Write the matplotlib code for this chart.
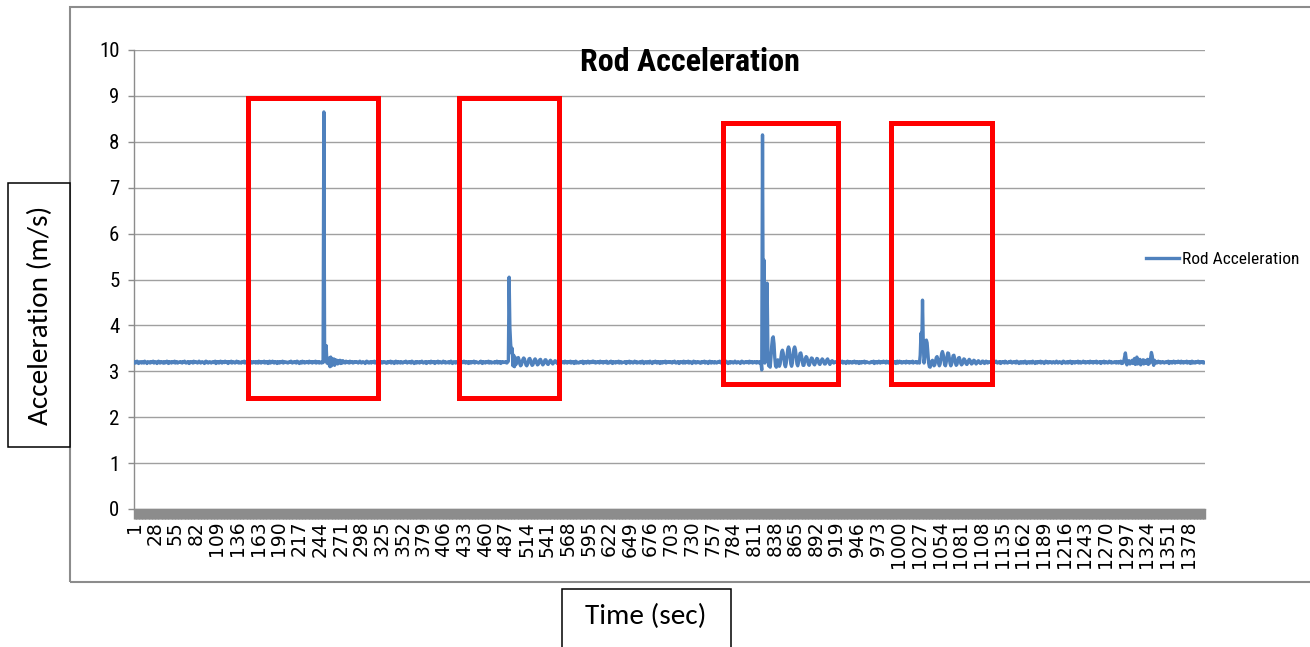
import numpy as np
import matplotlib
matplotlib.use("Agg")
import matplotlib.pyplot as plt
from matplotlib.patches import Rectangle

# Rod acceleration, one reading per second, in hundredths of m/s.
# Quiet stretches (rest_*) alternate with the impact bursts (burst_*).
rest_1 = [
    319, 321, 318, 320, 322, 319, 317, 320, 321, 319, 318, 321, 320, 318, 322, 320, 319, 317, 321, 320,
    320, 318, 321, 319, 320, 322, 318, 319, 321, 320, 317, 320, 322, 319, 318, 321, 319, 320, 318, 321,
    318, 320, 319, 322, 320, 317, 321, 319, 320, 318, 321, 320, 319, 322, 318, 320, 321, 318, 319, 320,
    321, 319, 320, 318, 321, 320, 322, 319, 318, 320, 319, 321, 317, 320, 319, 321, 320, 318, 322, 319,
    320, 321, 319, 318, 320, 322, 320, 318, 319, 321, 320, 319, 317, 321, 322, 319, 320, 318, 320, 321,
    319, 318, 320, 321, 319, 320, 322, 317, 320, 319, 321, 318, 320, 322, 319, 318, 321, 320, 319, 322,
    320, 319, 321, 317, 320, 321, 319, 322, 318, 320, 321, 319, 318, 320, 322, 319, 321, 318, 320, 319,
    318, 321, 320, 319, 322, 318, 320, 321, 319, 317, 320, 322, 319, 321, 318, 320, 319, 321, 320, 318,
    321, 320, 318, 322, 319, 320, 318, 321, 320, 319, 322, 318, 320, 319, 321, 317, 320, 322, 318, 320,
    319, 322, 320, 318, 321, 319, 320, 317, 321, 320, 318, 321, 319, 320, 322, 318, 319, 321, 320, 319,
    320, 318, 319, 321, 320, 322, 319, 318, 320, 321, 319, 320, 318, 322, 321, 319, 317, 320, 321, 318,
    322, 319, 321, 318, 320, 319, 321, 320, 318, 322, 320, 319, 321, 318, 320, 321, 319, 322, 318, 320,
    319, 321, 318, 320,
]
burst_1 = [
    320, 318, 321, 319, 865, 330, 322, 356, 318, 327,
    316, 329, 310, 331, 312, 326, 317, 327, 313, 325,
    318, 324, 316, 323, 319, 324, 317, 322, 318, 323,
    319, 321, 318, 322, 320, 319, 321, 318, 322, 319,
    320, 321, 318, 320, 319, 321,
]
rest_2 = [
    320, 321, 319, 318, 320, 322, 320, 318, 319, 321, 320, 319, 317, 321, 322, 319, 320, 318, 320, 321,
    318, 321, 320, 319, 322, 318, 320, 321, 319, 317, 320, 322, 319, 321, 318, 320, 319, 321, 320, 318,
    320, 318, 321, 319, 320, 322, 318, 319, 321, 320, 317, 320, 322, 319, 318, 321, 319, 320, 318, 321,
    320, 318, 319, 321, 320, 322, 319, 318, 320, 321, 319, 320, 318, 322, 321, 319, 317, 320, 321, 318,
    321, 319, 320, 318, 321, 320, 322, 319, 318, 320, 319, 321, 317, 320, 319, 321, 320, 318, 322, 319,
    320, 319, 321, 317, 320, 321, 319, 322, 318, 320, 321, 319, 318, 320, 322, 319, 321, 318, 320, 319,
    319, 321, 318, 320, 322, 319, 317, 320, 321, 319, 318, 321, 320, 318, 322, 320, 319, 317, 321, 320,
    319, 322, 320, 318, 321, 319, 320, 317, 321, 320, 318, 321, 319, 320, 322, 318, 319, 321, 320, 319,
    318, 320, 319, 322, 320, 317, 321, 319, 320, 318, 321, 320, 319, 322, 318, 320, 321, 318, 319, 320,
    320, 318, 321, 319, 322, 318, 320, 319, 321, 317, 320, 321, 319, 320,
]
burst_2 = [
    320, 319, 321, 318, 320, 322, 505, 395, 360, 340,
    350, 312, 335, 310, 330, 315, 322, 328, 330, 325,
    316, 312, 314, 320, 326, 329, 327, 320, 314, 312,
    315, 321, 327, 328, 324, 317, 313, 314, 319, 325,
    327, 324, 318, 314, 315, 320, 325, 326, 322, 317,
    314, 316, 321, 325, 325, 321, 316, 315, 318, 322,
    324, 322, 318, 316, 318, 321, 323, 322, 319, 317,
    319, 321, 322, 320, 318, 319,
]
rest_3 = [
    321, 320, 318, 322, 319, 320, 318, 321, 320, 319, 322, 318, 320, 319, 321, 317, 320, 322, 318, 320,
    319, 318, 320, 321, 319, 320, 322, 317, 320, 319, 321, 318, 320, 322, 319, 318, 321, 320, 319, 322,
    322, 319, 321, 318, 320, 319, 321, 320, 318, 322, 320, 319, 321, 318, 320, 321, 319, 322, 318, 320,
    318, 320, 319, 322, 320, 317, 321, 319, 320, 318, 321, 320, 319, 322, 318, 320, 321, 318, 319, 320,
    320, 319, 321, 317, 320, 321, 319, 322, 318, 320, 321, 319, 318, 320, 322, 319, 321, 318, 320, 319,
    319, 321, 318, 320, 322, 319, 317, 320, 321, 319, 318, 321, 320, 318, 322, 320, 319, 317, 321, 320,
    319, 322, 320, 318, 321, 319, 320, 317, 321, 320, 318, 321, 319, 320, 322, 318, 319, 321, 320, 319,
    321, 319, 320, 318, 321, 320, 322, 319, 318, 320, 319, 321, 317, 320, 319, 321, 320, 318, 322, 319,
    318, 321, 320, 319, 322, 318, 320, 321, 319, 317, 320, 322, 319, 321, 318, 320, 319, 321, 320, 318,
    320, 318, 321, 319, 320, 322, 318, 319, 321, 320, 317, 320, 322, 319, 318, 321, 319, 320, 318, 321,
    320, 318, 319, 321, 320, 322, 319, 318, 320, 321, 319, 320, 318, 322, 321, 319, 317, 320, 321, 318,
    320, 321, 319, 318, 320, 322, 320, 318, 319, 321, 320, 319, 317, 321, 322, 319, 320, 318, 320, 321,
    319, 321, 320, 318, 322, 319, 320, 321, 318, 320, 319, 321, 320, 318, 321, 319,
]
burst_3 = [
    320, 318, 321, 319, 303, 815, 345, 542, 318, 365,
    330, 492, 345, 312, 318, 309, 330, 355, 372, 375,
    360, 330, 312, 309, 315, 325, 318, 311, 316, 330,
    342, 346, 340, 326, 314, 310, 318, 334, 348, 353,
    348, 333, 316, 311, 318, 335, 349, 353, 347, 331,
    316, 312, 319, 331, 339, 340, 333, 321, 313, 313,
    320, 328, 332, 330, 323, 315, 313, 318, 325, 329,
    328, 322, 316, 314, 318, 324, 328, 327, 321, 316,
    315, 319, 324, 327, 325, 320, 316, 316, 320, 325,
    327, 323, 318, 315, 318, 322, 323, 320, 318, 319,
    321, 320, 319, 321,
]
rest_4 = [
    320, 318, 321, 319, 320, 322, 318, 319, 321, 320, 317, 320, 322, 319, 318, 321, 319, 320, 318, 321,
    319, 322, 320, 318, 321, 319, 320, 317, 321, 320, 318, 321, 319, 320, 322, 318, 319, 321, 320, 319,
    319, 318, 320, 321, 319, 320, 322, 317, 320, 319, 321, 318, 320, 322, 319, 318, 321, 320, 319, 322,
    321, 320, 318, 322, 319, 320, 318, 321, 320, 319, 322, 318, 320, 319, 321, 317, 320, 322, 318, 320,
    322, 319, 321, 318, 320, 319, 321, 320, 318, 322, 320, 319, 321, 318, 320, 321, 319, 322, 318, 320,
    320, 319, 321, 318, 320,
]
burst_4 = [
    320, 318, 335, 383, 350, 455, 360, 318, 330, 355,
    368, 362, 340, 318, 310, 309, 316, 322, 324, 318,
    312, 314, 322, 330, 332, 326, 317, 312, 316, 327,
    338, 343, 337, 325, 314, 312, 320, 332, 340, 339,
    329, 317, 312, 316, 326, 334, 335, 328, 318, 313,
    315, 322, 329, 330, 325, 317, 314, 316, 322, 327,
    326, 321, 316, 315, 318, 323, 326, 324, 319, 316,
    317, 321, 324, 323, 319, 316, 318, 321, 323, 321,
    318, 317, 319, 322, 322, 319, 317, 319, 322, 321,
    318, 319, 321, 320, 319,
]
rest_5 = [
    321, 319, 320, 318, 321, 320, 322, 319, 318, 320, 319, 321, 317, 320, 319, 321, 320, 318, 322, 319,
    320, 318, 319, 321, 320, 322, 319, 318, 320, 321, 319, 320, 318, 322, 321, 319, 317, 320, 321, 318,
    319, 321, 318, 320, 322, 319, 317, 320, 321, 319, 318, 321, 320, 318, 322, 320, 319, 317, 321, 320,
    318, 321, 320, 319, 322, 318, 320, 321, 319, 317, 320, 322, 319, 321, 318, 320, 319, 321, 320, 318,
    320, 321, 319, 318, 320, 322, 320, 318, 319, 321, 320, 319, 317, 321, 322, 319, 320, 318, 320, 321,
    318, 320, 319, 322, 320, 317, 321, 319, 320, 318, 321, 320, 319, 322, 318, 320, 321, 318, 319, 320,
    322, 319, 321, 318, 320, 319, 321, 320, 318, 322, 320, 319, 321, 318, 320, 321, 319, 322, 318, 320,
    320, 319, 321, 317, 320, 321, 319, 322, 318, 320, 321, 319, 318, 320, 322, 319, 321, 318, 320, 319,
    319, 321, 320, 318, 321,
]
burst_5 = [
    320, 318, 321, 319, 322, 317, 321, 318, 323, 332,
    340, 326, 314, 322, 318, 323, 316, 321, 319, 324,
    317, 322, 328, 315, 320, 331, 316, 322, 318, 326,
    314, 321, 319, 325, 316, 324, 318, 322, 317, 326,
    315, 323, 318, 330, 341, 334, 320, 313, 324, 319,
    321, 318, 320, 322, 319, 321, 318, 320, 319, 321,
]
rest_6 = [
    319, 318, 320, 321, 319, 320, 322, 317, 320, 319, 321, 318, 320, 322, 319, 318, 321, 320, 319, 322,
    321, 320, 318, 322, 319, 320, 318, 321, 320, 319, 322, 318, 320, 319, 321, 317, 320, 322, 318, 320,
    320, 318, 321, 319, 320, 322, 319, 318, 321, 320, 319, 321, 318, 320, 319,
]

time_ticks = [1, 28, 55, 82, 109, 136, 163, 190, 217, 244, 271, 298, 325, 352, 379, 406,
              433, 460, 487, 514, 541, 568, 595, 622, 649, 676, 703, 730, 757, 784, 811, 838,
              865, 892, 919, 946, 973, 1000, 1027, 1054, 1081, 1108, 1135, 1162, 1189, 1216,
              1243, 1270, 1297, 1324, 1351, 1378]
accel_ticks = [0, 1, 2, 3, 4, 5, 6, 7, 8, 9, 10]

segments = [rest_1, burst_1, rest_2, burst_2, rest_3, burst_3,
            rest_4, burst_4, rest_5, burst_5, rest_6]
accel = np.concatenate([np.asarray(s, dtype=float) for s in segments]) / 100.0
seconds = np.arange(1, len(accel) + 1)

# highlighted events: (first second, last second, low, high)
event_boxes = [
    (150, 320, 2.42, 8.95),
    (426, 556, 2.42, 8.95),
    (771, 920, 2.72, 8.41),
    (990, 1122, 2.72, 8.41),
]

NARROW = ["Roboto Condensed", "Carlito", "DejaVu Sans"]
BODY = ["Carlito", "Lato", "DejaVu Sans"]
GRID = "#a0a0a0"
AXIS = "#8c8c8c"

W, H = 1310, 647
fig = plt.figure(figsize=(W / 100, H / 100), dpi=100)
ax = fig.add_axes([134 / W, 1 - 509 / H, 1071 / W, 459 / H])

ax.plot(seconds, accel, color="#4f81bd", lw=2.4, label="Rod Acceleration", zorder=3)

ax.set_xlim(1, 1400)
ax.set_ylim(0, 10)
ax.set_yticks(accel_ticks)
ax.yaxis.grid(True, color=GRID, lw=1)
ax.set_axisbelow(True)

ax.set_xticks(time_ticks)
ax.set_xticklabels([str(t) for t in time_ticks], rotation=90,
                   fontfamily="DejaVu Sans", fontsize=13.5)
# one tick per second: at this density they merge into a solid band
ax.set_xticks(seconds, minor=True)
ax.tick_params(axis="x", which="both", length=7, width=1, color=AXIS, pad=1.5)
ax.tick_params(axis="y", length=4.5, width=1, color=AXIS, pad=6, labelsize=15)
for lab in ax.get_yticklabels():
    lab.set_fontfamily(NARROW)

for side in ("top", "right"):
    ax.spines[side].set_visible(False)
for side in ("left", "bottom"):
    ax.spines[side].set_color(AXIS)
    ax.spines[side].set_linewidth(1)

ax.text(0.519, 0.974, "Rod Acceleration", transform=ax.transAxes, ha="center",
        va="center", fontsize=23, fontweight="bold", family=NARROW)

for x0, x1, y0, y1 in event_boxes:
    ax.add_patch(Rectangle((x0, y0), x1 - x0, y1 - y0, fill=False,
                           edgecolor="#ff0000", lw=3.6, zorder=4))

ax.legend(loc="center left", bbox_to_anchor=(1146 / W, 1 - 259 / H),
          bbox_transform=fig.transFigure, frameon=False,
          prop=dict(family=NARROW, size=12.5), handlelength=1.9,
          handletextpad=0.2, borderpad=0, borderaxespad=0)

# chart frame
fig.add_artist(Rectangle((70 / W, 1 - 582 / H), (1315 - 70) / W, 575 / H,
                         transform=fig.transFigure, fill=False,
                         edgecolor=AXIS, lw=1.5))

# boxed axis titles
fig.add_artist(Rectangle((8 / W, 1 - 447 / H), 62 / W, 264 / H,
                         transform=fig.transFigure, facecolor="white",
                         edgecolor="black", lw=1.1))
fig.text(40 / W, 1 - 315 / H, "Acceleration (m/s)", rotation=90, ha="center",
         va="center", family=BODY, fontsize=21)

fig.add_artist(Rectangle((562 / W, -0.02), 169 / W, (H - 589) / H + 0.02,
                         transform=fig.transFigure, facecolor="white",
                         edgecolor="black", lw=1.1))
fig.text(646 / W, 1 - 616 / H, "Time (sec)", ha="center", va="center",
         family=BODY, fontsize=21)

fig.savefig("out.png", dpi=100)
